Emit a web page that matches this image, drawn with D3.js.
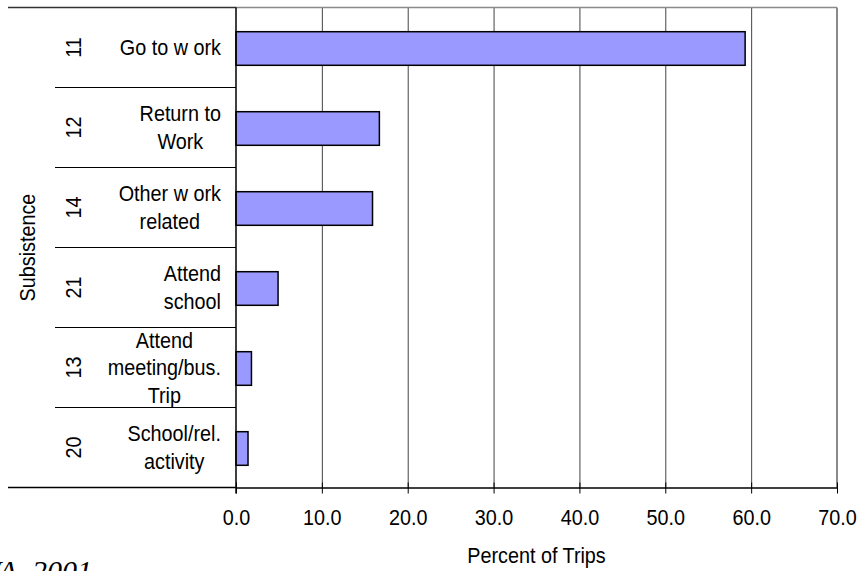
<!DOCTYPE html>
<html>
<head>
<meta charset="utf-8">
<script src="https://cdn.jsdelivr.net/npm/d3@7/dist/d3.min.js"></script>
<style>
  html, body { margin: 0; padding: 0; background: #fff; }
  svg { display: block; }
  text { font-family: "Liberation Sans", Arial, sans-serif; fill: #000; }
</style>
</head>
<body>
<svg id="chart" width="863" height="571"></svg>
<script>
// Trip purpose codes, their descriptions, and share of trips (%)
const codes = ["11", "12", "14", "21", "13", "20"];
const purposes = [
  ["Go to w ork"],
  ["Return to", "Work"],
  ["Other w ork", "related"],
  ["Attend", "school"],
  ["Attend", "meeting/bus.", "Trip"],
  ["School/rel.", "activity"]
];
const percents = [59.3, 16.7, 15.9, 4.9, 1.8, 1.4];
const xTicks = [0, 10, 20, 30, 40, 50, 60, 70];
const groupLabel = "Subsistence";
const xTitle = "Percent of Trips";
const sourceNote = "FHWA, 2001";

const svg = d3.select("#chart");
const fontSize = 22;
const squeeze = 0.9;   // glyphs are set slightly condensed

const plot = { left: 236, right: 837, top: 7.5, bottom: 487.5 };

const x = d3.scaleLinear().domain([0, 70]).range([plot.left, plot.right]);
const y = d3.scaleBand().domain(codes).range([plot.top, plot.bottom]).paddingInner(0.58).paddingOuter(0.29);
const band = d3.scaleBand().domain(codes).range([plot.top, plot.bottom]);

// vertical gridlines
svg.append("g").selectAll("line")
  .data(xTicks.filter(t => t > 0 && t < 70))
  .join("line")
  .attr("x1", d => x(d) + 0.5).attr("x2", d => x(d) + 0.5)
  .attr("y1", plot.top).attr("y2", plot.bottom)
  .attr("stroke", "#444").attr("stroke-width", 1);

// plot frame: top and right in grey
svg.append("line")
  .attr("x1", plot.left).attr("x2", plot.right)
  .attr("y1", plot.top).attr("y2", plot.top)
  .attr("stroke", "#8a8a8a").attr("stroke-width", 1.5);
svg.append("line")
  .attr("x1", plot.right).attr("x2", plot.right)
  .attr("y1", plot.top).attr("y2", plot.bottom)
  .attr("stroke", "#8a8a8a").attr("stroke-width", 2);

// bars
svg.append("g").selectAll("rect")
  .data(codes)
  .join("rect")
  .attr("x", x(0))
  .attr("y", d => y(d) + 1)
  .attr("width", (d, i) => x(percents[i]) - x(0))
  .attr("height", y.bandwidth())
  .attr("fill", "#9999ff")
  .attr("stroke", "#000")
  .attr("stroke-width", 1.5);

// x axis
const xAxis = d3.axisBottom(x)
  .tickValues(xTicks)
  .tickFormat(d3.format(".1f"))
  .tickSize(6)
  .tickSizeOuter(0)
  .tickPadding(0);
const gx = svg.append("g").attr("transform", `translate(0,${plot.bottom})`).call(xAxis);
gx.select(".domain").attr("stroke", "#000").attr("stroke-width", 1.5);
gx.selectAll(".tick line").attr("stroke", "#000").attr("y1", -5).attr("y2", 6);
gx.selectAll(".tick text")
  .attr("font-size", fontSize)
  .attr("font-family", "Liberation Sans, Arial, sans-serif")
  .attr("fill", "#000")
  .attr("y", 37.5)
  .attr("dy", null)
  .attr("transform", `scale(${squeeze},1)`);

// axis line extended across the category area
svg.append("line")
  .attr("x1", 8).attr("x2", plot.left)
  .attr("y1", plot.bottom).attr("y2", plot.bottom)
  .attr("stroke", "#000").attr("stroke-width", 1.5);
svg.append("line")
  .attr("x1", 8).attr("x2", plot.left)
  .attr("y1", plot.top).attr("y2", plot.top)
  .attr("stroke", "#333").attr("stroke-width", 1.5);

// y axis line
svg.append("line")
  .attr("x1", plot.left).attr("x2", plot.left)
  .attr("y1", plot.top).attr("y2", plot.bottom + 6)
  .attr("stroke", "#000").attr("stroke-width", 1.5);

// separators between categories
svg.append("g").selectAll("line")
  .data(codes.slice(1))
  .join("line")
  .attr("x1", 55).attr("x2", plot.left)
  .attr("y1", d => band(d)).attr("y2", d => band(d))
  .attr("stroke", "#000").attr("stroke-width", 1.2);

// category codes, rotated
svg.append("g").selectAll("text")
  .data(codes)
  .join("text")
  .attr("transform", d => `translate(81,${band(d) + band.bandwidth() / 2}) rotate(-90) scale(${squeeze},1)`)
  .attr("text-anchor", "middle")
  .attr("font-size", fontSize)
  .text(d => d);

// purpose descriptions: centered block, right edge against the axis
const lineGap = 27.5;
const labelRight = 221;
codes.forEach((c, i) => {
  const lines = purposes[i];
  const g = svg.append("g");
  const cy = band(c) + band.bandwidth() / 2;
  const texts = g.selectAll("text")
    .data(lines)
    .join("text")
    .attr("font-size", fontSize)
    .attr("text-anchor", "middle")
    .text(d => d);
  let w = 0;
  texts.each(function () { w = Math.max(w, this.getComputedTextLength() * squeeze); });
  const cx = labelRight - w / 2;
  texts.attr("transform", (d, j) =>
    `translate(${cx},${cy + (j - (lines.length - 1) / 2) * lineGap + 7.5}) scale(${squeeze},1)`);
});

// outer group label
svg.append("text")
  .attr("transform", `translate(35,${(plot.top + plot.bottom) / 2}) rotate(-90) scale(${squeeze},1)`)
  .attr("text-anchor", "middle")
  .attr("font-size", fontSize)
  .text(groupLabel);

// x axis title
svg.append("text")
  .attr("transform", `translate(${(plot.left + plot.right) / 2},563) scale(${squeeze},1)`)
  .attr("text-anchor", "middle")
  .attr("font-size", fontSize)
  .text(xTitle);

// source note
svg.append("text")
  .attr("x", 92)
  .attr("y", 581)
  .attr("text-anchor", "end")
  .attr("font-size", 30)
  .attr("font-style", "italic")
  .style("font-family", "'Liberation Serif', 'Times New Roman', serif")
  .text(sourceNote);
</script>
</body>
</html>
